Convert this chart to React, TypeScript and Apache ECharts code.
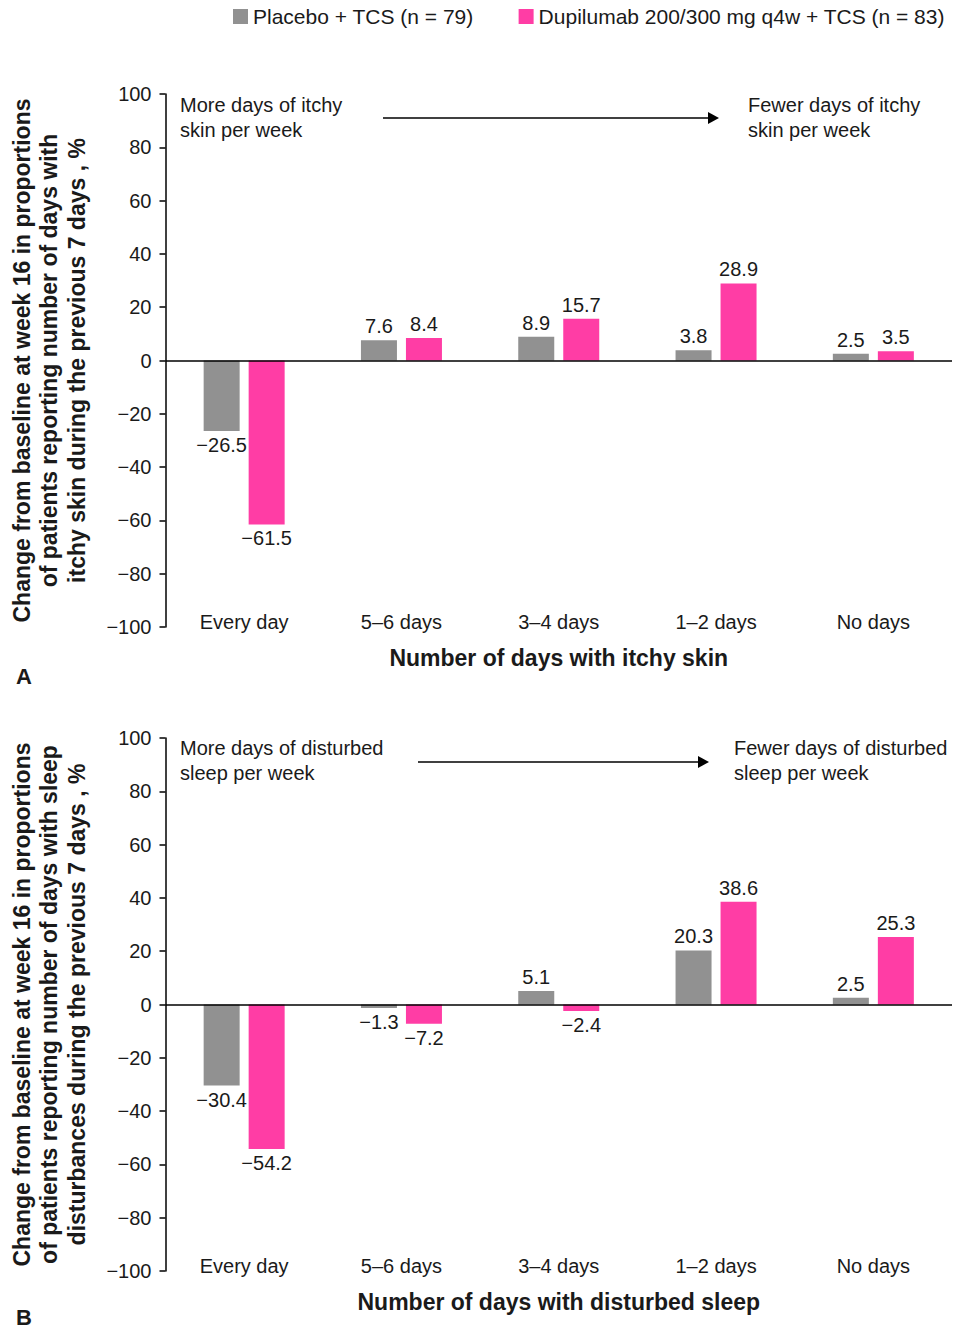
import React, { useEffect, useRef } from "react";
import * as echarts from "echarts";

const categories = ["Every day", "5\u20136 days", "3\u20134 days", "1\u20132 days", "No days"];
const seriesNames = ["Placebo + TCS (n = 79)", "Dupilumab 200/300 mg q4w + TCS (n = 83)"];
const itchPlacebo = [-26.5, 7.6, 8.9, 3.8, 2.5];
const itchDupilumab = [-61.5, 8.4, 15.7, 28.9, 3.5];
const sleepPlacebo = [-30.4, -1.3, 5.1, 20.3, 2.5];
const sleepDupilumab = [-54.2, -7.2, -2.4, 38.6, 25.3];
const yMin = -100;
const yMax = 100;
const yStep = 20;

const itchYName =
  "Change from baseline at week 16 in proportions\nof patients reporting number of days with\nitchy skin during the previous 7 days , %";
const sleepYName =
  "Change from baseline at week 16 in proportions\nof patients reporting number of days with sleep\ndisturbances during the previous 7 days , %";
const itchXName = "Number of days with itchy skin";
const sleepXName = "Number of days with disturbed sleep";

const FONT = '"Liberation Sans", Arial, Helvetica, sans-serif';
const GRAY = "#919191";
const PINK = "#FF3DA5";
const TEXT = "#1a1a1a";

const fmt = (v: number) => String(v).replace("-", "\u2212");

function makeSeries(name: string, values: number[], color: string, idx: number, withZero: boolean) {
  const s: any = {
    name,
    type: "bar",
    xAxisIndex: idx,
    yAxisIndex: idx,
    barWidth: 36,
    barGap: "25%",
    itemStyle: { color },
    label: {
      show: true,
      fontFamily: FONT,
      fontSize: 20,
      color: TEXT,
      distance: 4,
      formatter: (p: any) => fmt(p.value),
    },
    data: values.map((v) => ({ value: v, label: { position: v < 0 ? "bottom" : "top" } })),
  };
  if (withZero) {
    s.markLine = {
      silent: true,
      symbol: "none",
      label: { show: false },
      lineStyle: { color: "#000", width: 1.5, type: "solid" },
      data: [{ yAxis: 0 }],
    };
  }
  return s;
}

function xAxisFor(idx: number, name: string) {
  return {
    type: "category",
    gridIndex: idx,
    data: categories,
    axisLine: { show: false, onZero: false },
    axisTick: { show: false },
    axisLabel: { fontFamily: FONT, fontSize: 20, color: TEXT, margin: -15 },
    name,
    nameLocation: "middle",
    nameGap: 19,
    nameTextStyle: { fontFamily: FONT, fontSize: 23, fontWeight: "bold", color: TEXT, verticalAlign: "top" },
  };
}

function yAxisFor(idx: number, name: string) {
  return {
    type: "value",
    gridIndex: idx,
    min: yMin,
    max: yMax,
    interval: yStep,
    axisLine: { show: true, onZero: false, lineStyle: { color: "#000", width: 1.5 } },
    axisTick: { show: true, length: 6, lineStyle: { color: "#000", width: 1.5 } },
    splitLine: { show: false },
    axisLabel: { fontFamily: FONT, fontSize: 20, color: TEXT, margin: 14, formatter: (v: number) => fmt(v) },
    name,
    nameLocation: "middle",
    nameRotate: 90,
    nameGap: 75,
    nameTextStyle: { fontFamily: FONT, fontSize: 23, fontWeight: "bold", color: TEXT, lineHeight: 27.5, align: "center" },
  };
}

function annotation(x: number, y: number, text: string) {
  return {
    type: "text",
    x,
    y,
    style: { text, font: `20px ${FONT}`, fill: TEXT, lineHeight: 25, textVerticalAlign: "top" },
  };
}

function arrow(x1: number, x2: number, y: number) {
  return [
    { type: "line", shape: { x1, y1: y, x2: x2 - 8, y2: y }, style: { stroke: "#000", lineWidth: 1.5 } },
    {
      type: "polygon",
      shape: { points: [[x2 - 11, y - 6], [x2, y], [x2 - 11, y + 6]] },
      style: { fill: "#000" },
    },
  ];
}

export default function App() {
  const ref = useRef<HTMLDivElement>(null);
  useEffect(() => {
    document.body.style.margin = "0";
    if (!ref.current) return;
    const chart = echarts.init(ref.current, null, { renderer: "svg" });
    chart.setOption({
      animation: false,
      backgroundColor: "#fff",
      textStyle: { fontFamily: FONT },
      legend: {
        left: 233,
        top: 6,
        width: 721,
        padding: 0,
        icon: "rect",
        itemWidth: 15,
        itemHeight: 15,
        itemGap: 45,
        textStyle: { fontFamily: FONT, fontSize: 21, color: TEXT },
        data: seriesNames,
      },
      grid: [
        { left: 163, top: 94, width: 789, height: 533 },
        { left: 163, top: 738, width: 789, height: 533 },
      ],
      xAxis: [xAxisFor(0, itchXName), xAxisFor(1, sleepXName)],
      yAxis: [yAxisFor(0, itchYName), yAxisFor(1, sleepYName)],
      series: [
        makeSeries(seriesNames[0], itchPlacebo, GRAY, 0, true),
        makeSeries(seriesNames[1], itchDupilumab, PINK, 0, false),
        makeSeries(seriesNames[0], sleepPlacebo, GRAY, 1, true),
        makeSeries(seriesNames[1], sleepDupilumab, PINK, 1, false),
      ],
      graphic: [
        annotation(180, 92, "More days of itchy\nskin per week"),
        annotation(748, 92, "Fewer days of itchy\nskin per week"),
        ...arrow(383, 719, 118),
        annotation(180, 735, "More days of disturbed\nsleep per week"),
        annotation(734, 735, "Fewer days of disturbed\nsleep per week"),
        ...arrow(418, 709, 762),
        { type: "text", x: 16, y: 665, style: { text: "A", font: `bold 22px ${FONT}`, fill: TEXT } },
        { type: "text", x: 16, y: 1306, style: { text: "B", font: `bold 22px ${FONT}`, fill: TEXT } },
      ],
    });
    return () => chart.dispose();
  }, []);
  return <div ref={ref} style={{ width: 954, height: 1330 }} />;
}
